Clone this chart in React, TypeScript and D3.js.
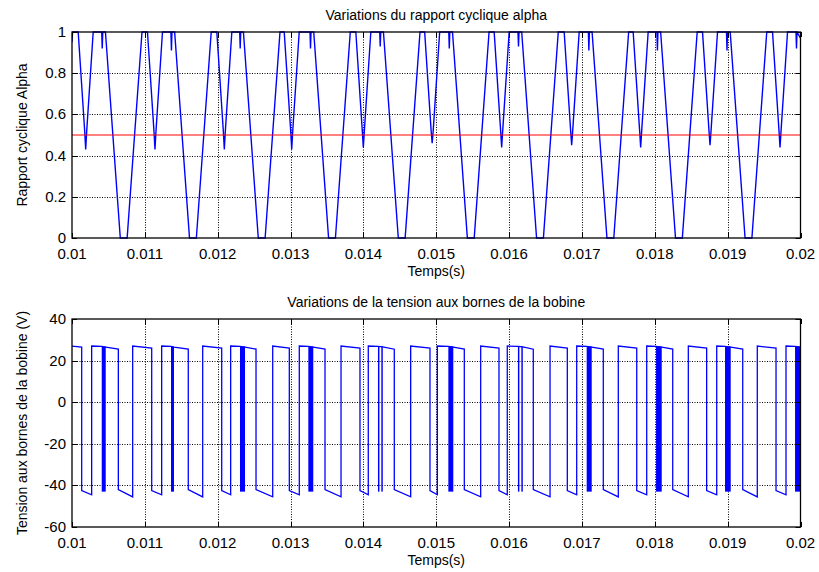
import * as d3 from 'd3';

// x axis (seconds)
const timeTicks = [0.01, 0.011, 0.012, 0.013, 0.014, 0.015, 0.016, 0.017, 0.018, 0.019, 0.02];
const timeTickLabels = ['0.01', '0.011', '0.012', '0.013', '0.014', '0.015', '0.016', '0.017', '0.018', '0.019', '0.02'];

const alphaTicks = [0, 0.2, 0.4, 0.6, 0.8, 1];
const alphaTickLabels = ['0', '0.2', '0.4', '0.6', '0.8', '1'];
const voltTicks = [-60, -40, -20, 0, 20, 40];
const voltTickLabels = ['-60', '-40', '-20', '0', '20', '40'];

// reference duty cycle (red)
const alphaRef: [number, number][] = [[0.01, 0.5], [0.02, 0.5]];

// duty cycle alpha, vertices
const alphaPoints: [number, number][] = [
  [0.01, 0.95], [0.010008, 1],
  [0.010085, 1], [0.010174, 0.52], [0.010188, 0.43], [0.010202, 0.52], [0.010291, 1],
  [0.010408, 1], [0.010415, 0.92], [0.010422, 1],
  [0.010459, 1], [0.010663, 0], [0.010757, 0], [0.010961, 1],
  [0.011036, 1], [0.011125, 0.52], [0.011139, 0.43], [0.011153, 0.52], [0.011242, 1],
  [0.011358, 1], [0.011365, 0.91], [0.011372, 1],
  [0.011409, 1], [0.011613, 0], [0.011707, 0], [0.011911, 1],
  [0.011988, 1], [0.012077, 0.52], [0.012091, 0.43], [0.012105, 0.52], [0.012194, 1],
  [0.012302, 1], [0.012309, 0.92], [0.012316, 1],
  [0.012353, 1], [0.012557, 0], [0.012651, 0], [0.012855, 1],
  [0.012913, 1], [0.013002, 0.52], [0.013016, 0.43], [0.01303, 0.52], [0.013119, 1],
  [0.013267, 1], [0.013274, 0.92], [0.013281, 1],
  [0.013318, 1], [0.013522, 0], [0.013616, 0], [0.01382, 1],
  [0.013896, 1], [0.013985, 0.52], [0.013999, 0.44], [0.014013, 0.52], [0.014102, 1],
  [0.014224, 1], [0.014231, 0.93], [0.014238, 1],
  [0.014275, 1], [0.014479, 0], [0.014573, 0], [0.014777, 1],
  [0.014841, 1], [0.01493, 0.52], [0.014944, 0.46], [0.014958, 0.52], [0.015047, 1],
  [0.015172, 1], [0.015179, 0.92], [0.015186, 1],
  [0.015223, 1], [0.015427, 0], [0.015521, 0], [0.015725, 1],
  [0.015795, 1], [0.015884, 0.52], [0.015898, 0.44], [0.015912, 0.52], [0.016001, 1],
  [0.016122, 1], [0.016129, 0.93], [0.016136, 1],
  [0.016173, 1], [0.016377, 0], [0.016471, 0], [0.016675, 1],
  [0.016756, 1], [0.016845, 0.52], [0.016859, 0.45], [0.016873, 0.52], [0.016962, 1],
  [0.017088, 1], [0.017095, 0.91], [0.017102, 1],
  [0.017139, 1], [0.017343, 0], [0.017437, 0], [0.017641, 1],
  [0.017703, 1], [0.017792, 0.52], [0.017806, 0.44], [0.01782, 0.52], [0.017909, 1],
  [0.018029, 1], [0.018036, 0.91], [0.018043, 1],
  [0.01808, 1], [0.018284, 0], [0.018378, 0], [0.018582, 1],
  [0.018655, 1], [0.018744, 0.52], [0.018758, 0.45], [0.018772, 0.52], [0.018861, 1],
  [0.018984, 1], [0.018991, 0.91], [0.018998, 1],
  [0.019035, 1], [0.019239, 0], [0.019333, 0], [0.019537, 1],
  [0.019616, 1], [0.019705, 0.52], [0.019719, 0.44], [0.019733, 0.52], [0.019822, 1],
  [0.019938, 1], [0.019945, 0.92], [0.019952, 1],
  [0.02, 0.97],
];

// coil voltage (V)
const voltagePoints: [number, number][] = [
  [0.01, 27], [0.010133, 26.5], [0.010133, -42.5], [0.01027, -44.5], [0.01027, 27], [0.010408, 26.8],
  [0.010463, 26.5], [0.010636, 25.5], [0.010636, -42], [0.010833, -45.5], [0.010833, 27], [0.011094, 26],
  [0.011094, -42.5], [0.011231, -44.5], [0.011231, 27], [0.011359, 26.8], [0.0114, 26.5], [0.011596, 25.5],
  [0.011596, -42], [0.011794, -45.5], [0.011794, 27], [0.012055, 26], [0.012055, -42.5], [0.012178, -44.5],
  [0.012178, 27], [0.012306, 26.8], [0.012375, 26.5], [0.012526, 25.5], [0.012526, -42], [0.012755, -45.5],
  [0.012755, 27], [0.012983, 26], [0.012983, -42.5], [0.01312, -44.5], [0.01312, 27], [0.013244, 26.8],
  [0.013312, 26.5], [0.013473, 25.5], [0.013473, -42], [0.013693, -45.5], [0.013693, 27], [0.013953, 26],
  [0.013953, -42.5], [0.014067, -44.5], [0.014067, 27], [0.0142, 26.8], [0.014266, 26.6], [0.014424, 25.5],
  [0.014424, -42], [0.014649, -45.5], [0.014649, 27], [0.014914, 26], [0.014914, -42.5], [0.015015, -44.5],
  [0.015015, 27], [0.015166, 26.8], [0.015234, 26.5], [0.015385, 25.5], [0.015385, -42], [0.01561, -45.5],
  [0.01561, 27], [0.015861, 26], [0.015861, -42.5], [0.015975, -44.5], [0.015975, 27], [0.016121, 26.8],
  [0.016188, 26.6], [0.016332, 25.5], [0.016332, -42], [0.016562, -45.5], [0.016562, 27], [0.016799, 26],
  [0.016799, -42.5], [0.016928, -44.5], [0.016928, 27], [0.017065, 26.8], [0.017134, 26.5], [0.017293, 25.5],
  [0.017293, -42], [0.017499, -45.5], [0.017499, 27], [0.017752, 26], [0.017752, -42.5], [0.017889, -44.5],
  [0.017889, 27], [0.018017, 26.8], [0.018095, 26.5], [0.018246, 25.5], [0.018246, -42], [0.01846, -45.5],
  [0.01846, 27], [0.018712, 26], [0.018712, -42.5], [0.01885, -44.5], [0.01885, 27], [0.018964, 26.8],
  [0.019042, 26.5], [0.019207, 25.5], [0.019207, -42], [0.019407, -45.5], [0.019407, 27], [0.019664, 26],
  [0.019664, -42.5], [0.019801, -44.5], [0.019801, 27], [0.019925, 26.8], [0.02, 26.5],
];

// fast switching bursts (solid blue bands)
const chatterBands: [number, number][] = [
  [0.010408, 0.010463], [0.011359, 0.0114], [0.012306, 0.012375], [0.013244, 0.013312],
  [0.0142, 0.01422], [0.014246, 0.014266], [0.015166, 0.015234], [0.016121, 0.016141],
  [0.016168, 0.016188], [0.017065, 0.017134], [0.018017, 0.018095], [0.018964, 0.019042],
  [0.019925, 0.02],
];
const chatterLevels = [-43, 26.8];

const FONT = 'Liberation Sans, Arial, Helvetica, sans-serif';
const X0 = 72;
const X1 = 800.5;

const x = d3.scaleLinear().domain([0.01, 0.02]).range([X0, X1]);
const snap = (v: number) => Math.round(v) + 0.5;

type PanelProps = {
  id: string;
  top: number;
  bottom: number;
  domain: [number, number];
  ticks: number[];
  tickLabels: string[];
  title: string;
  ylabel: string;
  children: (y: d3.ScaleLinear<number, number>) => any;
};

function Panel({ id, top, bottom, domain, ticks, tickLabels, title, ylabel, children }: PanelProps) {
  const y = d3.scaleLinear().domain(domain).range([bottom, top]);
  const tk = 5;
  return (
    <g>
      <defs>
        <clipPath id={id}>
          <rect x={X0} y={top - 1} width={X1 - X0} height={bottom - top + 2} />
        </clipPath>
      </defs>
      <rect x={X0} y={top} width={X1 - X0} height={bottom - top} fill="#fff" />
      {/* grid */}
      {timeTicks.slice(1, -1).map((t) => (
        <line key={'gx' + t} x1={snap(x(t))} x2={snap(x(t))} y1={top} y2={bottom} stroke="#000" strokeWidth={1} strokeDasharray="1,1.5" />
      ))}
      {ticks.slice(1, -1).map((v) => (
        <line key={'gy' + v} x1={X0} x2={X1} y1={snap(y(v))} y2={snap(y(v))} stroke="#000" strokeWidth={1} strokeDasharray="1,1.5" />
      ))}
      {/* data */}
      <g clipPath={`url(#${id})`}>{children(y)}</g>
      {/* inner ticks */}
      {timeTicks.map((t) => (
        <g key={'tx' + t}>
          <line x1={snap(x(t))} x2={snap(x(t))} y1={bottom} y2={bottom - tk} stroke="#000" />
          <line x1={snap(x(t))} x2={snap(x(t))} y1={top} y2={top + tk} stroke="#000" />
        </g>
      ))}
      {ticks.map((v) => (
        <g key={'ty' + v}>
          <line x1={X0} x2={X0 + tk} y1={snap(y(v))} y2={snap(y(v))} stroke="#000" />
          <line x1={X1} x2={X1 - tk} y1={snap(y(v))} y2={snap(y(v))} stroke="#000" />
        </g>
      ))}
      <rect x={X0} y={top} width={X1 - X0} height={bottom - top} fill="none" stroke="#000" strokeWidth={1.3} />
      {/* labels */}
      {timeTicks.map((t, i) => (
        <text key={'lx' + t} x={x(t)} y={bottom + 21} textAnchor="middle" fontSize={15} fontFamily={FONT} fill="#000">
          {timeTickLabels[i]}
        </text>
      ))}
      {ticks.map((v, i) => (
        <text key={'ly' + v} x={X0 - 6} y={y(v) + 5} textAnchor="end" fontSize={15} fontFamily={FONT} fill="#000">
          {tickLabels[i]}
        </text>
      ))}
      <text x={(X0 + X1) / 2} y={bottom + 38} textAnchor="middle" fontSize={14} fontFamily={FONT} fill="#000">
        Temps(s)
      </text>
      <text x={(X0 + X1) / 2} y={top - 12} textAnchor="middle" fontSize={14} fontFamily={FONT} fill="#000">
        {title}
      </text>
      <text
        transform={`translate(27,${(top + bottom) / 2}) rotate(-90)`}
        textAnchor="middle"
        fontSize={14}
        fontFamily={FONT}
        fill="#000"
      >
        {ylabel}
      </text>
    </g>
  );
}

export default function App() {
  return (
    <div style={{ position: 'absolute', left: 0, top: 0 }}>
      <svg width={819} height={572} style={{ display: 'block', background: '#fff' }}>
        <rect width={819} height={572} fill="#fff" />
        <Panel
          id="clipA"
          top={32}
          bottom={238}
          domain={[0, 1]}
          ticks={alphaTicks}
          tickLabels={alphaTickLabels}
          title="Variations du rapport cyclique alpha"
          ylabel="Rapport cyclique Alpha"
        >
          {(y) => {
            const line = d3.line<[number, number]>().x((d) => x(d[0])).y((d) => y(d[1]));
            return (
              <g>
                <path d={line(alphaPoints) || ''} fill="none" stroke="#0000ff" strokeWidth={1.4} />
                <path d={line(alphaRef) || ''} fill="none" stroke="#ff0000" strokeWidth={1} />
              </g>
            );
          }}
        </Panel>
        <Panel
          id="clipV"
          top={319}
          bottom={527}
          domain={[-60, 40]}
          ticks={voltTicks}
          tickLabels={voltTickLabels}
          title="Variations de la tension aux bornes de la bobine"
          ylabel="Tension aux bornes de la bobine (V)"
        >
          {(y) => {
            const line = d3.line<[number, number]>().x((d) => x(d[0])).y((d) => y(d[1]));
            return (
              <g>
                {chatterBands.map(([a, b]) => (
                  <rect
                    key={'cb' + a}
                    x={x(a)}
                    width={Math.max(1.2, x(b) - x(a))}
                    y={y(chatterLevels[1])}
                    height={y(chatterLevels[0]) - y(chatterLevels[1])}
                    fill="#0000ff"
                  />
                ))}
                <path d={line(voltagePoints) || ''} fill="none" stroke="#0000ff" strokeWidth={1.3} />
              </g>
            );
          }}
        </Panel>
      </svg>
    </div>
  );
}
